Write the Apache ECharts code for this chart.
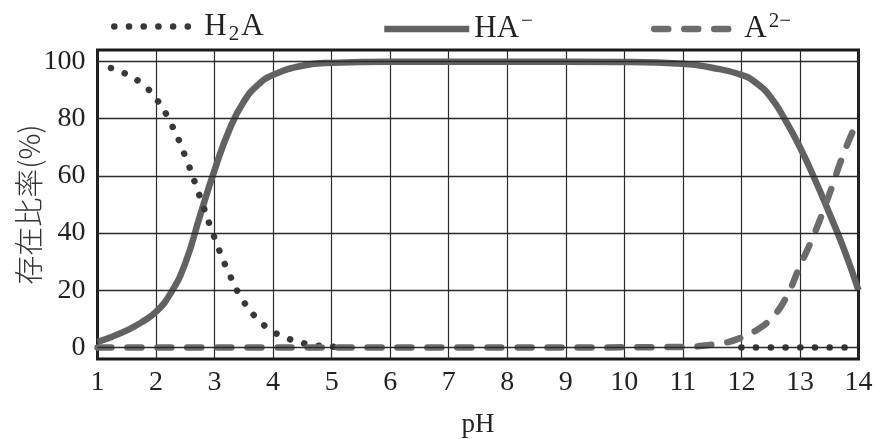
<!DOCTYPE html>
<html>
<head>
<meta charset="utf-8">
<script src="https://cdn.jsdelivr.net/npm/echarts@6/dist/echarts.min.js"></script>
<style>
  html, body { margin: 0; padding: 0; background: #fff; }
  #chart { width: 877px; height: 439px; }
</style>
</head>
<body>
<div id="chart"></div>
<script>
// values (pH, %)
const h2aPH = [1.23, 1.5, 1.75, 2.0, 2.25, 2.5, 2.75, 3.0, 3.25, 3.5, 3.75, 4.0, 4.25, 4.5, 4.75, 5.0, 5.25, 5.5, 12.0, 12.5, 13.0, 13.5, 13.8]
const h2aVal = [97.7, 95.5, 92.3, 87, 78.5, 66.8, 52.7, 38.3, 25.8, 16, 9.7, 5.6, 3.2, 1.6, 0.7, 0.3, 0.1, '-', 0, 0, 0, 0, 0]

const haPH = [1.0, 1.25, 1.5, 1.75, 2.0, 2.25, 2.5, 2.75, 3.0, 3.25, 3.5, 3.75, 4.0, 4.5, 5.0, 6.0, 8.0, 10.0, 11.0, 11.5, 12.0, 12.25, 12.5, 12.75, 13.0, 13.25, 13.5, 13.75, 14.0]
const haVal = [2.0, 3.8, 6.0, 8.8, 12.5, 19, 29.5, 46, 62, 76, 86, 92, 95.3, 98.5, 99.5, 99.9, 99.9, 99.8, 99.2, 97.8, 95.3, 92.5, 87.5, 79.5, 70, 59, 47, 34.5, 20]

const a2PH = [1.0, 4.0, 8.0, 11.0, 11.5, 11.75, 12.0, 12.25, 12.5, 12.75, 13.0, 13.25, 13.5, 13.75, 14.0]
const a2Val = [0, 0, 0, 0.2, 1.0, 1.8, 3.5, 6, 10, 17, 28.5, 40, 53.5, 68, 80]

const yTicks = [0, 20, 40, 60, 80, 100]

const pairs = (xs, ys) => xs.map((x, i) => [x, ys[i]])

const serif = '"Liberation Serif", "DejaVu Serif", serif'
const legendText = {
  'H2A': '{n|H}{s|2}{n|A}',
  'HA-': '{n|HA}{p|−}',
  'A2-': '{n|A}{p|2−}'
}
const legendStyle = {
  fontFamily: serif,
  color: '#222',
  rich: {
    n: { fontSize: 31, lineHeight: 36, fontFamily: serif, color: '#222' },
    s: { fontSize: 21, lineHeight: 20, verticalAlign: 'bottom', fontFamily: serif, color: '#222', padding: [0, 2, 0, 2] },
    p: { fontSize: 21, lineHeight: 20, verticalAlign: 'top', fontFamily: serif, color: '#222', padding: [0, 0, 0, 2] }
  }
}
const makeLegend = (name, left, line) => ({
  data: [name],
  left: left,
  top: 6,
  itemWidth: 85,
  itemHeight: 14,
  itemGap: 0,
  selectedMode: false,
  formatter: (n) => legendText[n],
  textStyle: legendStyle,
  itemStyle: { opacity: 0 },
  lineStyle: line
})

const dotLine = { color: '#383838', width: 6.5, type: [0.1, 14.6], cap: 'round' }
const solidLine = { color: '#626262', width: 6.5, type: 'solid' }
const dashLine = { color: '#6c6c6c', width: 6.5, type: [14, 16], cap: 'round' }

const option = {
  backgroundColor: '#fff',
  animation: false,
  legend: [
    makeLegend('H2A', 106, dotLine),
    makeLegend('HA-', 376, solidLine),
    makeLegend('A2-', 646, dashLine)
  ],
  grid: {
    left: 97.5,
    right: 18.5,
    top: 50,
    bottom: 80,
    outerBoundsMode: 'none',
    containLabel: false,
    show: true,
    borderColor: '#1a1a1a',
    borderWidth: 3
  },
  xAxis: {
    type: 'value',
    min: 1,
    max: 14,
    interval: 1,
    name: 'pH',
    nameLocation: 'middle',
    nameGap: 52,
    nameMoveOverlap: false,
    nameTextStyle: { fontFamily: serif, fontSize: 27, color: '#222' },
    axisLine: { show: false },
    axisTick: { show: false },
    axisLabel: { fontFamily: serif, fontSize: 28, color: '#222', margin: 10 },
    splitLine: { show: true, lineStyle: { color: '#2a2a2a', width: 1.2 } }
  },
  yAxis: {
    type: 'value',
    min: -4,
    max: 104,
    name: '存在比率(%)',
    nameLocation: 'middle',
    nameGap: 54,
    nameMoveOverlap: false,
    nameTextStyle: { fontFamily: '"Noto Sans CJK JP", sans-serif', fontSize: 29, color: '#333', fontWeight: 300 },
    axisLine: { show: false },
    axisTick: { show: false, customValues: yTicks },
    axisLabel: { fontFamily: serif, fontSize: 28, color: '#222', margin: 12, customValues: yTicks },
    splitLine: { show: false }
  },
  series: [
    {
      name: 'grid',
      type: 'line',
      z: 1,
      data: [],
      silent: true,
      markLine: {
        silent: true,
        symbol: 'none',
        label: { show: false },
        lineStyle: { type: 'solid', color: '#2a2a2a', width: 1.4 },
        data: yTicks.map((v) => ({ yAxis: v }))
      }
    },
    {
      name: 'HA-',
      type: 'line',
      data: pairs(haPH, haVal),
      smooth: true,
      showSymbol: false,
      symbol: 'none',
      color: '#626262',
      lineStyle: solidLine
    },
    {
      name: 'H2A',
      type: 'line',
      data: pairs(h2aPH, h2aVal),
      smooth: true,
      showSymbol: false,
      symbol: 'none',
      color: '#383838',
      lineStyle: dotLine
    },
    {
      name: 'A2-',
      type: 'line',
      data: pairs(a2PH, a2Val),
      smooth: true,
      showSymbol: false,
      symbol: 'none',
      color: '#6c6c6c',
      lineStyle: dashLine
    }
  ]
}

const myChart = echarts.init(document.getElementById('chart'))
myChart.setOption(option)
</script>
</body>
</html>
